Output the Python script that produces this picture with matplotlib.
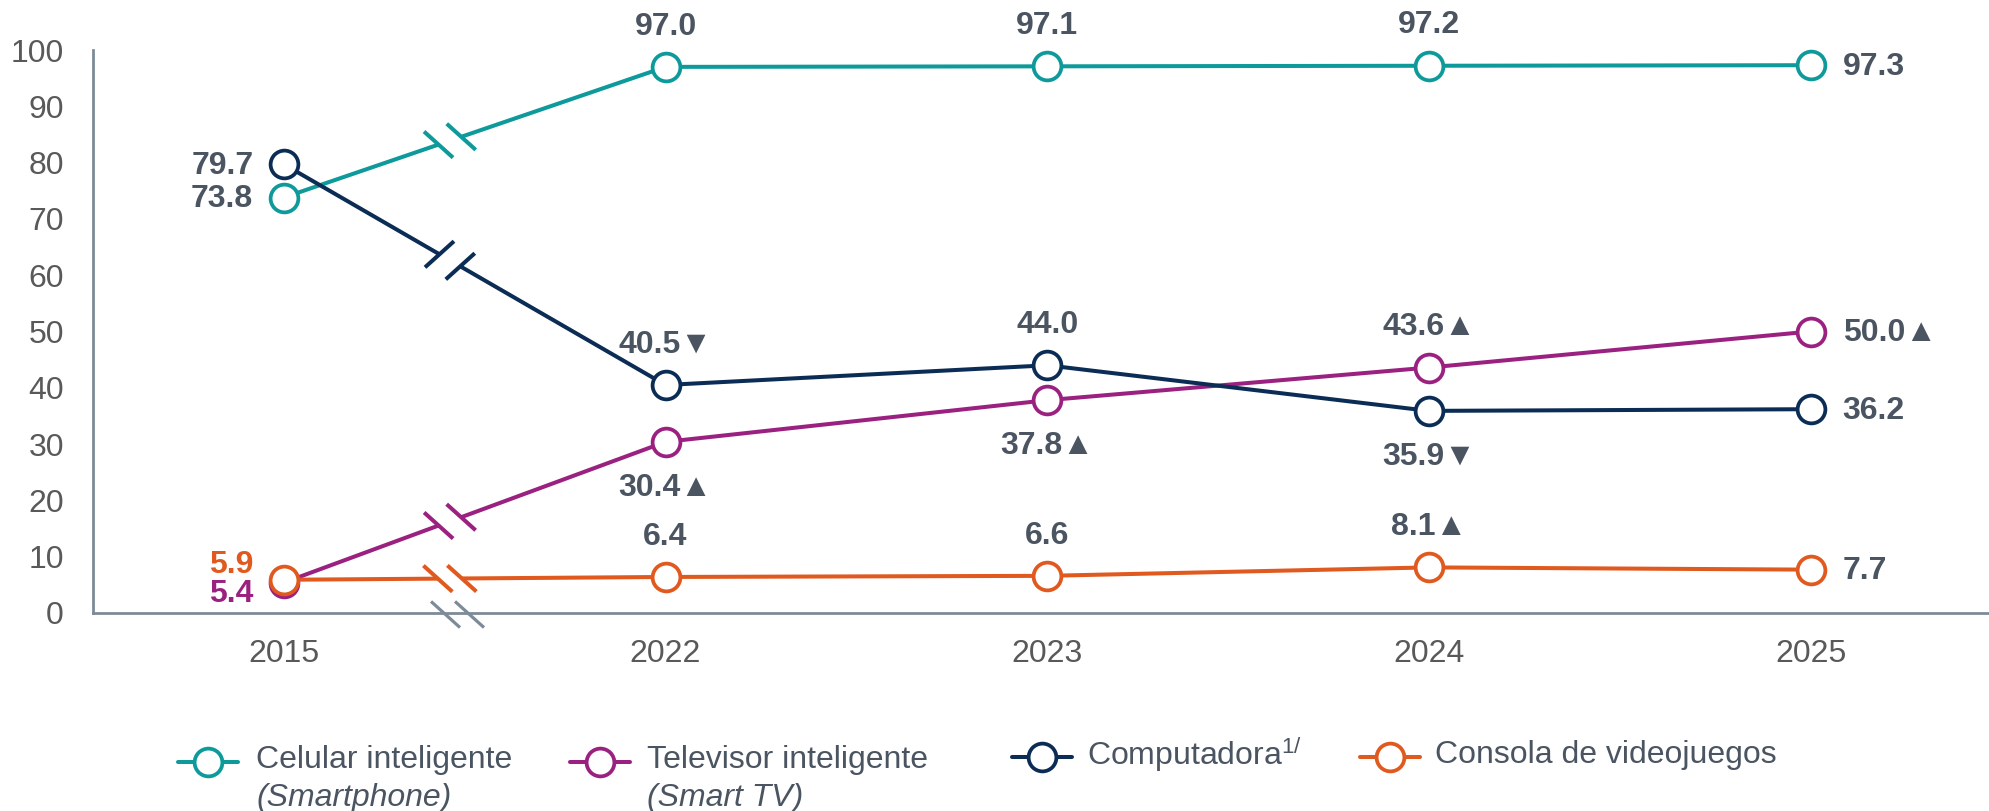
import numpy as np
import matplotlib
matplotlib.use("Agg")
import matplotlib.pyplot as plt
from matplotlib.lines import Line2D

# ---------------- data ----------------
years = ["2015", "2022", "2023", "2024", "2025"]
celular = [73.8, 97.0, 97.1, 97.2, 97.3]
televisor = [5.4, 30.4, 37.8, 43.6, 50.0]
computadora = [79.7, 40.5, 44.0, 35.9, 36.2]
consola = [5.9, 6.4, 6.6, 8.1, 7.7]

celular_flags = ["", "", "", "", ""]
televisor_flags = ["", "▲", "▲", "▲", "▲"]
computadora_flags = ["", "▼", "", "▼", ""]
consola_flags = ["", "", "", "▲", ""]

y_ticks = [0, 10, 20, 30, 40, 50, 60, 70, 80, 90, 100]

legend_main = ["Celular inteligente", "Televisor inteligente",
               "Computadora$^{1/}$", "Consola de videojuegos"]
legend_sub = ["(Smartphone)", "(Smart TV)", "", ""]

# ---------------- style ----------------
plt.rcParams["font.family"] = ["Liberation Sans", "DejaVu Sans"]
plt.rcParams["mathtext.fontset"] = "custom"
plt.rcParams["mathtext.rm"] = "Liberation Sans"
plt.rcParams["mathtext.it"] = "Liberation Sans:italic"

TEAL = "#0E9A9B"
PURPLE = "#9B2180"
NAVY = "#0B2D55"
ORANGE = "#E0591E"
TXT = "#4B5562"
TICK = "#595959"
AXIS = "#7D8B98"
FS = 23

W, H = 1990, 811
fig = plt.figure(figsize=(W / 100, H / 100), dpi=100)
ax_left, ax_right, ax_top, ax_bot = 93, 1990, 50, 613
ax = fig.add_axes([ax_left / W, 1 - ax_bot / H, (ax_right - ax_left) / W, (ax_bot - ax_top) / H])

x = np.arange(len(years))
ax.set_xlim(-0.5, 4.47)
ax.set_ylim(0, 100)

for s in ["top", "right"]:
    ax.spines[s].set_visible(False)
for s in ["left", "bottom"]:
    ax.spines[s].set_color(AXIS)
    ax.spines[s].set_linewidth(2.0)

ax.set_yticks(y_ticks)
ax.set_xticks(x)
ax.set_xticklabels(years)
ax.tick_params(axis="y", length=0, pad=21, labelsize=FS, labelcolor=TICK)
ax.tick_params(axis="x", length=0, pad=19, labelsize=FS, labelcolor=TICK)

LW = 2.9
MS = 20
MEW = 2.7
series = [
    (celular, celular_flags, TEAL, ["left", "above", "above", "above", "right"], TXT),
    (televisor, televisor_flags, PURPLE, ["left_dn", "below", "below", "above", "right"], PURPLE),
    (computadora, computadora_flags, NAVY, ["left", "above", "above", "below", "right"], TXT),
    (consola, consola_flags, ORANGE, ["left_up", "above", "above", "above", "right"], ORANGE),
]

to_disp = ax.transData.transform
to_data = ax.transData.inverted().transform


def seg(p, q, color, lw, z):
    a = to_data(p)
    b = to_data(q)
    ax.plot([a[0], b[0]], [a[1], b[1]], color=color, lw=lw, zorder=z,
            solid_capstyle="butt", clip_on=False)


BREAK_F = 0.435
HALF_GAP = 12.0   # px
MARK_HALF = 19.5  # px

for i, (vals, flags, col, pos, first_col) in enumerate(series):
    z = 3 + i
    ax.plot(x, vals, color=col, lw=LW, marker="o", ms=MS, mfc="white",
            mec=col, mew=MEW, zorder=z, clip_on=False)
    # axis-break symbol on the first segment
    p0 = to_disp((x[0], vals[0]))
    p1 = to_disp((x[1], vals[1]))
    d = p1 - p0
    u = d / np.hypot(*d)
    c = p0 + BREAK_F * d
    a = c - u * HALF_GAP
    b = c + u * HALF_GAP
    seg(a, b, "white", LW + 3, z + 0.1)
    ang = np.deg2rad(-42 if d[1] >= 0 else 42)
    m = np.array([np.cos(ang), np.sin(ang)]) * MARK_HALF
    for pt in (a, b):
        seg(pt - m, pt + m, col, LW, z + 0.2)

    # labels
    for j, (v, f) in enumerate(zip(vals, flags)):
        txt = f"{v:.1f}{f}"
        p = pos[j]
        kw = dict(fontsize=FS, fontweight="bold", color=TXT,
                  textcoords="offset points", va="center", zorder=10)
        if p == "above":
            ax.annotate(txt, (x[j], v), xytext=(0, 29), ha="center", **kw)
        elif p == "below":
            ax.annotate(txt, (x[j], v), xytext=(0, -33), ha="center", **kw)
        elif p == "right":
            ax.annotate(txt, (x[j], v), xytext=(23, -1), ha="left", **kw)
        else:
            dy = {"left": -1, "left_up": 10.5, "left_dn": -8.5}[p]
            kw["color"] = first_col
            ax.annotate(txt, (x[j], v), xytext=(-22, dy), ha="right", **kw)

# x-axis break symbol
c = to_disp((0.455, 0))
ang = np.deg2rad(-42)
m = np.array([np.cos(ang), np.sin(ang)]) * 19.5
seg(np.array([c[0] - 12, c[1]]), np.array([c[0] + 12, c[1]]), "white", 4, 2.5)
for dx in (-12, 12):
    pt = c + np.array([dx, -1.5])
    seg(pt - m, pt + m, AXIS, 2.3, 2.6)

# ---------------- legend (manual) ----------------
leg_colors = [TEAL, PURPLE, NAVY, ORANGE]
handle_cx = [208, 600, 1042, 1390]
handle_y = [762, 762, 757, 757]
text_x = [256, 647, 1087, 1435]
for k in range(4):
    hx, hy = handle_cx[k], handle_y[k]
    fig.add_artist(Line2D([(hx - 30) / W, (hx + 30) / W], [1 - hy / H, 1 - hy / H],
                          transform=fig.transFigure, color=leg_colors[k], lw=LW,
                          solid_capstyle="round"))
    fig.add_artist(Line2D([hx / W], [1 - hy / H], transform=fig.transFigure,
                          color=leg_colors[k], marker="o", ms=MS, mfc="white",
                          mec=leg_colors[k], mew=MEW, lw=0))
    fig.text(text_x[k] / W, 1 - (hy - 2) / H, legend_main[k], fontsize=FS,
             color=TXT, ha="left", va="center")
    if legend_sub[k]:
        fig.text(text_x[k] / W, 1 - (hy + 36) / H, legend_sub[k], fontsize=FS,
                 color=TXT, ha="left", va="center", style="italic")

fig.savefig("out.png", dpi=100, facecolor="white")
